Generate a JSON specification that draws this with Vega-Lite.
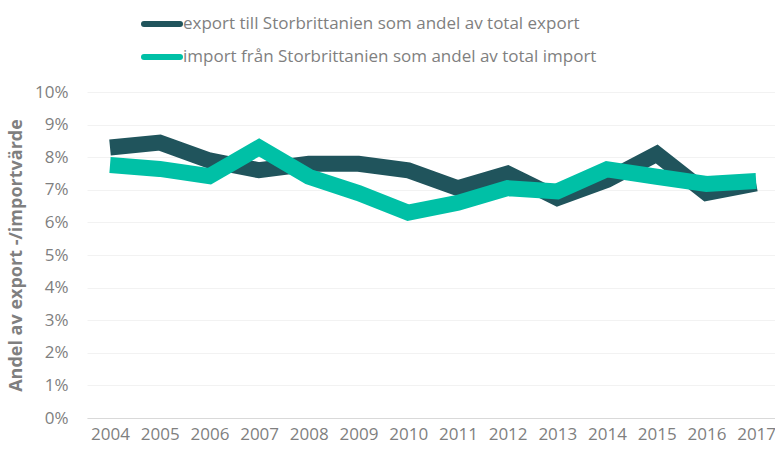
{
  "$schema": "https://vega.github.io/schema/vega-lite/v6.json",
  "width": 688,
  "height": 326,
  "autosize": {"type": "none"},
  "padding": {"left": 87, "top": 92, "right": 0, "bottom": 32},
  "background": "white",
  "config": {
    "view": {"stroke": null},
    "font": "Open Sans"
  },
  "data": {
    "values": [
      {"year": 2004, "serie": "export till Storbrittanien som andel av total export", "v": 0.0830},
      {"year": 2005, "serie": "export till Storbrittanien som andel av total export", "v": 0.0845},
      {"year": 2006, "serie": "export till Storbrittanien som andel av total export", "v": 0.0790},
      {"year": 2007, "serie": "export till Storbrittanien som andel av total export", "v": 0.0760},
      {"year": 2008, "serie": "export till Storbrittanien som andel av total export", "v": 0.0780},
      {"year": 2009, "serie": "export till Storbrittanien som andel av total export", "v": 0.0780},
      {"year": 2010, "serie": "export till Storbrittanien som andel av total export", "v": 0.0760},
      {"year": 2011, "serie": "export till Storbrittanien som andel av total export", "v": 0.0705},
      {"year": 2012, "serie": "export till Storbrittanien som andel av total export", "v": 0.0750},
      {"year": 2013, "serie": "export till Storbrittanien som andel av total export", "v": 0.0675},
      {"year": 2014, "serie": "export till Storbrittanien som andel av total export", "v": 0.0730},
      {"year": 2015, "serie": "export till Storbrittanien som andel av total export", "v": 0.0810},
      {"year": 2016, "serie": "export till Storbrittanien som andel av total export", "v": 0.0690},
      {"year": 2017, "serie": "export till Storbrittanien som andel av total export", "v": 0.0720},
      {"year": 2004, "serie": "import från Storbrittanien som andel av total import", "v": 0.0776},
      {"year": 2005, "serie": "import från Storbrittanien som andel av total import", "v": 0.0764},
      {"year": 2006, "serie": "import från Storbrittanien som andel av total import", "v": 0.0742},
      {"year": 2007, "serie": "import från Storbrittanien som andel av total import", "v": 0.0830},
      {"year": 2008, "serie": "import från Storbrittanien som andel av total import", "v": 0.0740},
      {"year": 2009, "serie": "import från Storbrittanien som andel av total import", "v": 0.0690},
      {"year": 2010, "serie": "import från Storbrittanien som andel av total import", "v": 0.0630},
      {"year": 2011, "serie": "import från Storbrittanien som andel av total import", "v": 0.0660},
      {"year": 2012, "serie": "import från Storbrittanien som andel av total import", "v": 0.0705},
      {"year": 2013, "serie": "import från Storbrittanien som andel av total import", "v": 0.0695},
      {"year": 2014, "serie": "import från Storbrittanien som andel av total import", "v": 0.0763},
      {"year": 2015, "serie": "import från Storbrittanien som andel av total import", "v": 0.0740},
      {"year": 2016, "serie": "import från Storbrittanien som andel av total import", "v": 0.0718},
      {"year": 2017, "serie": "import från Storbrittanien som andel av total import", "v": 0.0727}
    ]
  },
  "mark": {"type": "line", "strokeWidth": 16, "strokeCap": "butt", "strokeJoin": "miter"},
  "encoding": {
    "x": {
      "field": "year",
      "type": "quantitative",
      "scale": {"domain": [2003.537, 2017.38], "nice": false, "zero": false},
      "axis": {
        "values": [2004, 2005, 2006, 2007, 2008, 2009, 2010, 2011, 2012, 2013, 2014, 2015, 2016, 2017],
        "format": "d",
        "title": null,
        "grid": false,
        "ticks": false,
        "domainColor": "#d9d9d9",
        "labelColor": "#7f7f7f",
        "labelFontSize": 17,
        "labelPadding": 8,
        "labelFlush": false,
        "labelOverlap": false
      }
    },
    "y": {
      "field": "v",
      "type": "quantitative",
      "scale": {"domain": [0, 0.1], "nice": false},
      "axis": {
        "values": [0, 0.01, 0.02, 0.03, 0.04, 0.05, 0.06, 0.07, 0.08, 0.09, 0.1],
        "format": ".0%",
        "title": "Andel av export -/importvärde",
        "titleFontSize": 18,
        "titleFontWeight": "bold",
        "titleColor": "#7f7f7f",
        "titlePadding": 9,
        "domain": false,
        "ticks": false,
        "gridColor": "#f2f2f2",
        "gridWidth": 1,
        "labelColor": "#7f7f7f",
        "labelFontSize": 17,
        "labelPadding": 19
      }
    },
    "color": {
      "field": "serie",
      "type": "nominal",
      "scale": {"range": ["#20545c", "#00c0a6"]},
      "legend": {
        "title": null,
        "orient": "none",
        "legendX": 54,
        "legendY": -89,
        "direction": "vertical",
        "symbolType": "stroke",
        "symbolSize": 1296,
        "symbolStrokeWidth": 6,
        "symbolOffset": 0,
        "labelFontSize": 17,
        "labelColor": "#7f7f7f",
        "labelOffset": 0,
        "rowPadding": -1,
        "labelLimit": 600,
        "encode": {"symbols": {"update": {"strokeCap": {"value": "round"}}}}
      }
    }
  }
}
